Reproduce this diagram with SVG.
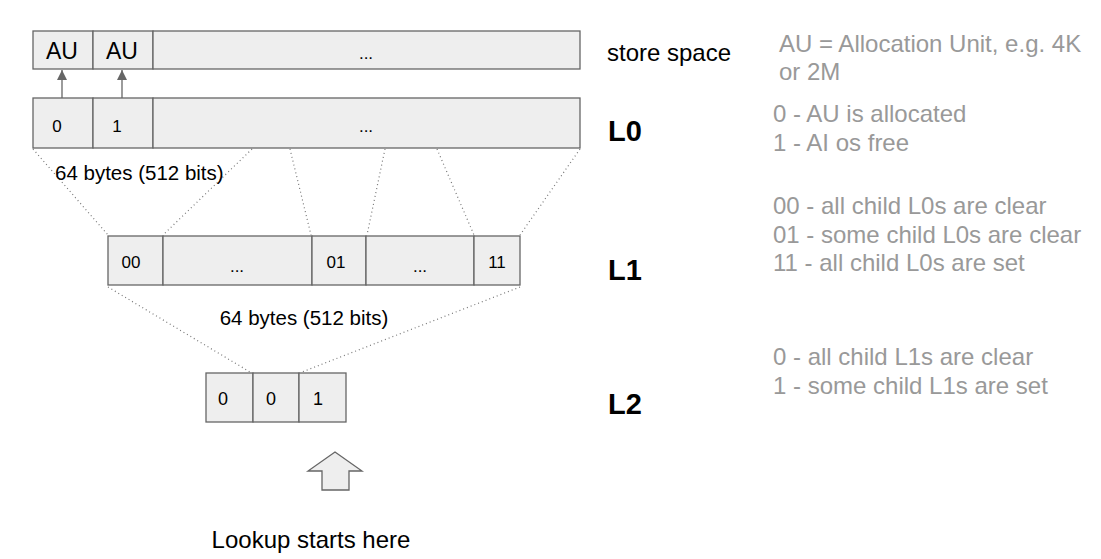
<svg xmlns="http://www.w3.org/2000/svg" width="1101" height="559" viewBox="0 0 1101 559">
<defs>
<style>
.cell{fill:#eeeeee;stroke:#666666;stroke-width:1.3}
.t{font-family:"Liberation Sans",Arial,sans-serif;fill:#000}
.g{font-family:"Liberation Sans",Arial,sans-serif;fill:#999999;font-size:24px}
.lv{font-family:"Liberation Sans",Arial,sans-serif;font-weight:bold;font-size:29px;fill:#000}
.dot{stroke:#777;stroke-width:1.2;stroke-dasharray:1 3;fill:none}
.arr{stroke:#666;stroke-width:1.3;fill:none}
</style>
<marker id="ah" viewBox="0 0 10 10" refX="10" refY="5" markerWidth="10" markerHeight="10" markerUnits="userSpaceOnUse" orient="auto">
<path d="M0,0 L10,5 L0,10 Z" fill="#666"/>
</marker>
</defs>
<rect width="1101" height="559" fill="#fff"/>

<g id="connectors">
<line class="arr" x1="62" y1="98" x2="62" y2="70" marker-end="url(#ah)"/>
<line class="arr" x1="122" y1="98" x2="122" y2="70" marker-end="url(#ah)"/>
<line class="dot" x1="33" y1="149" x2="108" y2="235"/>
<line class="dot" x1="252" y1="149" x2="163" y2="235"/>
<line class="dot" x1="290" y1="149" x2="311" y2="235"/>
<line class="dot" x1="385" y1="149" x2="367" y2="235"/>
<line class="dot" x1="437" y1="149" x2="474" y2="235"/>
<line class="dot" x1="580" y1="149" x2="520" y2="235"/>
<line class="dot" x1="108" y1="287" x2="250" y2="372"/>
<line class="dot" x1="520" y1="287" x2="302" y2="372"/>
</g>

<g id="store-space">
<rect class="cell" x="33" y="31" width="60" height="38"/>
<rect class="cell" x="93" y="31" width="60" height="38"/>
<rect class="cell" x="153" y="31" width="427" height="38"/>
<text class="t" x="62" y="59" font-size="23" text-anchor="middle">AU</text>
<text class="t" x="122" y="59" font-size="23" text-anchor="middle">AU</text>
<text class="t" x="366" y="59" font-size="17" text-anchor="middle">...</text>
</g>

<g id="L0-row">
<rect class="cell" x="33" y="98" width="60" height="50"/>
<rect class="cell" x="93" y="98" width="60" height="50"/>
<rect class="cell" x="153" y="98" width="427" height="50"/>
<text class="t" x="57" y="132" font-size="17" text-anchor="middle">0</text>
<text class="t" x="117" y="132" font-size="17" text-anchor="middle">1</text>
<text class="t" x="366" y="132" font-size="17" text-anchor="middle">...</text>
</g>

<g id="L1-row">
<rect class="cell" x="108" y="236" width="55" height="49"/>
<rect class="cell" x="163" y="236" width="149" height="49"/>
<rect class="cell" x="312" y="236" width="54" height="49"/>
<rect class="cell" x="366" y="236" width="108" height="49"/>
<rect class="cell" x="474" y="236" width="46" height="49"/>
<text class="t" x="131" y="268" font-size="17" text-anchor="middle">00</text>
<text class="t" x="237" y="272" font-size="17" text-anchor="middle">...</text>
<text class="t" x="336" y="268" font-size="17" text-anchor="middle">01</text>
<text class="t" x="420" y="272" font-size="17" text-anchor="middle">...</text>
<text class="t" x="497" y="268" font-size="17" text-anchor="middle">11</text>
</g>

<g id="L2-row">
<rect class="cell" x="206" y="373" width="47" height="49"/>
<rect class="cell" x="253" y="373" width="46" height="49"/>
<rect class="cell" x="299" y="373" width="47" height="49"/>
<text class="t" x="223" y="405" font-size="18" text-anchor="middle">0</text>
<text class="t" x="271" y="405" font-size="18" text-anchor="middle">0</text>
<text class="t" x="318" y="405" font-size="18" text-anchor="middle">1</text>
</g>

<g id="lookup-arrow">
<path class="cell" d="M335,452 L362,471 L349,471 L349,490 L322,490 L322,471 L308,471 Z"/>
</g>

<g id="labels">
<text class="t" x="55" y="180" font-size="20.5">64 bytes (512 bits)</text>
<text class="t" x="304" y="325" font-size="20.5" text-anchor="middle">64 bytes (512 bits)</text>
<text class="t" x="311" y="548" font-size="24" text-anchor="middle">Lookup starts here</text>
<text class="t" x="607" y="61" font-size="24">store space</text>
<text class="lv" x="608" y="141">L0</text>
<text class="lv" x="608" y="280">L1</text>
<text class="lv" x="608" y="414">L2</text>
<text class="g" x="779" y="52">AU = Allocation Unit, e.g. 4K</text>
<text class="g" x="779" y="80">or 2M</text>
<text class="g" x="773" y="122">0 - AU is allocated</text>
<text class="g" x="773" y="151">1 - AI os free</text>
<text class="g" x="773" y="214">00 - all child L0s are clear</text>
<text class="g" x="773" y="243">01 - some child L0s are clear</text>
<text class="g" x="773" y="271">11 - all child L0s are set</text>
<text class="g" x="773" y="365">0 - all child L1s are clear</text>
<text class="g" x="773" y="394">1 - some child L1s are set</text>
</g>
</svg>
